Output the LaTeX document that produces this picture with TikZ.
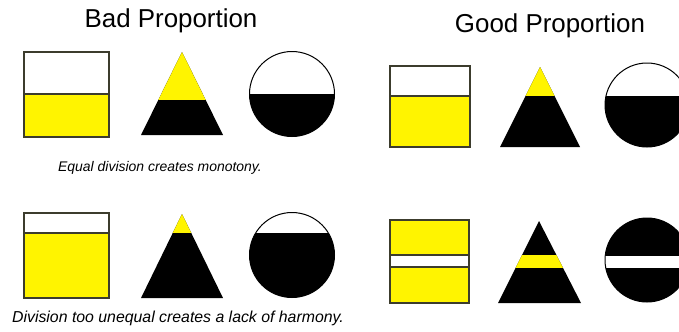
\documentclass[tikz,border=0pt]{standalone}
\usepackage{fontspec}
\setmainfont{Liberation Sans}
\usepackage{tikz}
\usetikzlibrary{positioning,calc}
\definecolor{propyellow}{RGB}{255,244,0}
\definecolor{edgegray}{RGB}{60,60,45}
\tikzset{
  headline/.style={font=\fontsize{26}{30}\selectfont,inner sep=0pt},
  caption/.style={font=\itshape\fontsize{14}{17}\selectfont,inner sep=0pt},
  bigcaption/.style={font=\itshape\fontsize{15.9}{19}\selectfont,inner sep=0pt},
  boxpart/.style={draw=edgegray,line width=1.1bp},
  ringline/.style={draw=black,line width=1bp},
}
\begin{document}
\begin{tikzpicture}[x=1bp,y=-1bp]
    \useasboundingbox (0,0) rectangle (679,331);
    % titles and captions
    \node[headline] (badtitle) at (171,21) {Bad Proportion};
    \node[headline] (goodtitle) at (550,26) {Good Proportion};
    \node[caption] (equalcap) at (160,168) {Equal division creates monotony.};
    \node[bigcaption] (unequalcap) at (178,318) {Division too unequal creates a lack of harmony.};

    % squares
    \filldraw[boxpart,fill=white] (24,52) rectangle (109,94);
    \filldraw[boxpart,fill=propyellow] (24,94) rectangle (109,137);
    \filldraw[boxpart,fill=white] (390,66) rectangle (470,96);
    \filldraw[boxpart,fill=propyellow] (390,96) rectangle (470,147);
    \filldraw[boxpart,fill=white] (24,213) rectangle (109,233);
    \filldraw[boxpart,fill=propyellow] (24,233) rectangle (109,298);
    \filldraw[boxpart,fill=propyellow] (390,220) rectangle (469,255);
    \filldraw[boxpart,fill=white] (390,255) rectangle (469,267);
    \filldraw[boxpart,fill=propyellow] (390,267) rectangle (469,303);

    % triangles
    \fill[black] (182,52) -- (141,135) -- (223,135) -- cycle;
    \begin{scope}
      \clip (182,52) -- (141,135) -- (223,135) -- cycle;
      \fill[propyellow] (130,40) rectangle (235,100);
    \end{scope}
    \fill[black] (540,67) -- (500,147) -- (580,147) -- cycle;
    \begin{scope}
      \clip (540,67) -- (500,147) -- (580,147) -- cycle;
      \fill[propyellow] (490,55) rectangle (590,96);
    \end{scope}
    \fill[black] (182,214) -- (141,298) -- (223,298) -- cycle;
    \begin{scope}
      \clip (182,214) -- (141,298) -- (223,298) -- cycle;
      \fill[propyellow] (130,200) rectangle (235,233);
    \end{scope}
    \fill[black] (539,221) -- (498,303) -- (581,303) -- cycle;
    \begin{scope}
      \clip (539,221) -- (498,303) -- (581,303) -- cycle;
      \fill[propyellow] (490,255) rectangle (590,268);
    \end{scope}

    % circles
    \begin{scope}
      \clip (292,94) circle (42.5);
      \fill[black] (240,94) rectangle (345,140);
    \end{scope}
    \draw[ringline] (292,94) circle (42.5);
    \begin{scope}
      \clip (647,105) circle (42);
      \fill[black] (600,96) rectangle (700,150);
    \end{scope}
    \draw[ringline] (647,105) circle (42);
    \begin{scope}
      \clip (292,255) circle (42.5);
      \fill[black] (240,233) rectangle (345,300);
    \end{scope}
    \draw[ringline] (292,255) circle (42.5);
    \begin{scope}
      \clip (647,260) circle (42);
      \fill[black] (600,215) rectangle (700,306);
      \fill[white] (600,256) rectangle (700,268);
    \end{scope}
    \draw[ringline] (647,260) circle (42);
\end{tikzpicture}
\end{document}
